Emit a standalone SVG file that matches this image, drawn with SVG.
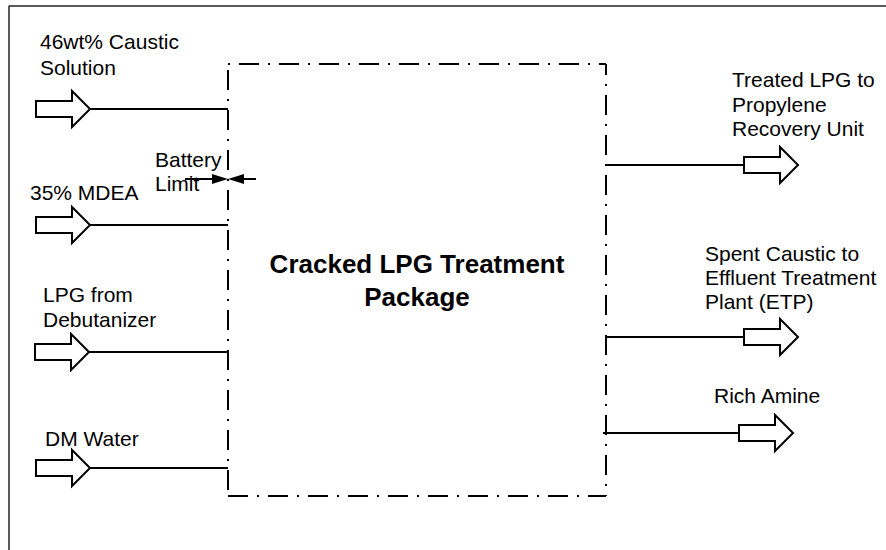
<svg xmlns="http://www.w3.org/2000/svg" width="886" height="550" viewBox="0 0 886 550">
<style>
text{font-family:"Liberation Sans",Arial,sans-serif;font-size:21px;fill:#000}
.title{font-weight:bold;font-size:26px}
.blk{fill:#fff;stroke:#000;stroke-width:2;stroke-linejoin:miter}
.con{stroke:#000;stroke-width:2;fill:none}
.bl{stroke:#000;stroke-width:2;fill:none;stroke-dasharray:20 9 2 9}
.frame{stroke:#222;stroke-width:1.5;fill:none}
</style>
<defs>
<path id="blockArrow" d="M0,-8 H36 V-18 L54,0 L36,18 V8 H0 Z"/>
</defs>
<g id="frame">
<line class="frame" x1="9" y1="6" x2="886" y2="6"/>
<line class="frame" x1="9" y1="6" x2="9" y2="550"/>
</g>
<g id="package">
<line class="bl" x1="228" y1="64" x2="606" y2="64" style="stroke-dasharray:2 9 20 9"/>
<line class="bl" x1="228" y1="64" x2="228" y2="496" stroke-dashoffset="34"/>
<line class="bl" x1="606" y1="64" x2="606" y2="496" stroke-dashoffset="9"/>
<line class="bl" x1="228" y1="496" x2="606" y2="496"/>
<text class="title" x="417" y="273" text-anchor="middle">Cracked LPG Treatment</text>
<text class="title" x="417" y="306" text-anchor="middle">Package</text>
</g>
<g id="battery-limit">
<line class="con" x1="185" y1="179" x2="214" y2="179"/>
<polygon points="212,174 228,179 212,184" fill="#000"/>
<line class="con" x1="242" y1="179" x2="256" y2="179"/>
<polygon points="244,174 228,179 244,184" fill="#000"/>
<text x="155" y="167">Battery</text>
<text x="155" y="191">Limit</text>
</g>
<g id="caustic-in">
<use href="#blockArrow" class="blk" x="36" y="109"/>
<text x="40" y="49">46wt% Caustic</text>
<text x="40" y="75">Solution</text>
</g>
<g id="mdea-in">
<use href="#blockArrow" class="blk" x="36" y="225"/>
<text x="30" y="200">35% MDEA</text>
</g>
<g id="lpg-in">
<use href="#blockArrow" class="blk" x="35" y="352"/>
<text x="43" y="302">LPG from</text>
<text x="43" y="327">Debutanizer</text>
</g>
<g id="dm-water-in">
<use href="#blockArrow" class="blk" x="36" y="468"/>
<text x="45" y="446">DM Water</text>
</g>
<g id="treated-lpg-out">
<use href="#blockArrow" class="blk" x="744" y="165"/>
<text x="732" y="87">Treated LPG to</text>
<text x="732" y="112">Propylene</text>
<text x="732" y="136">Recovery Unit</text>
</g>
<g id="spent-caustic-out">
<use href="#blockArrow" class="blk" x="744" y="337"/>
<text x="705" y="261">Spent Caustic to</text>
<text x="705" y="285">Effluent Treatment</text>
<text x="705" y="309">Plant (ETP)</text>
</g>
<g id="rich-amine-out">
<use href="#blockArrow" class="blk" x="739" y="433"/>
<text x="714" y="403">Rich Amine</text>
</g>
<g id="connectors">
<line class="con" x1="90" y1="109" x2="228" y2="109"/>
<line class="con" x1="90" y1="225" x2="228" y2="225"/>
<line class="con" x1="89" y1="352" x2="228" y2="352"/>
<line class="con" x1="90" y1="468" x2="228" y2="468"/>
<line class="con" x1="606" y1="165" x2="744" y2="165"/>
<line class="con" x1="606" y1="337" x2="744" y2="337"/>
<line class="con" x1="603" y1="433" x2="739" y2="433"/>
</g>
</svg>
